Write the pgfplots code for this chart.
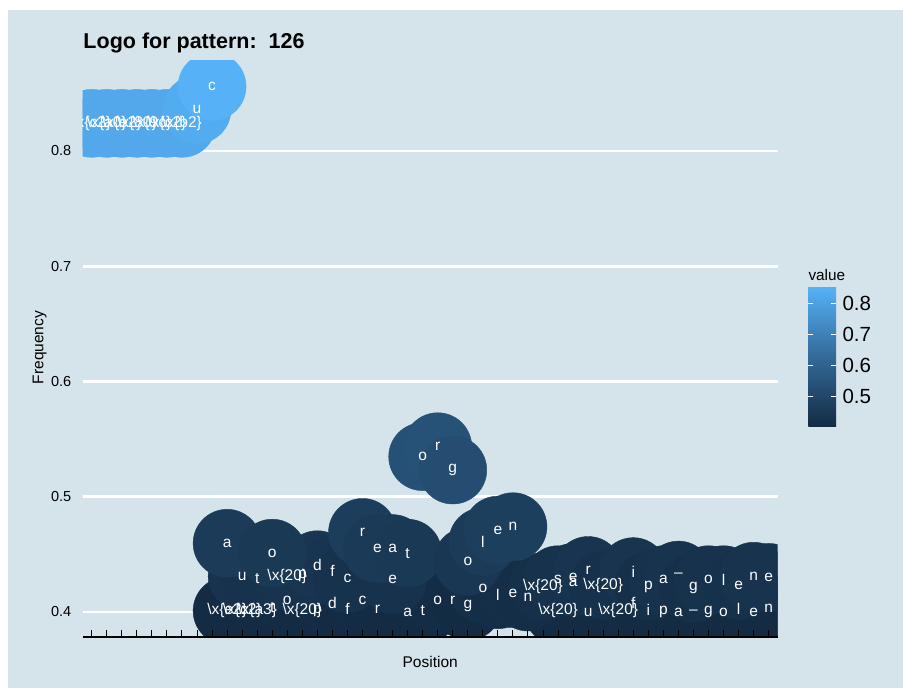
\documentclass[border=0pt]{standalone}
\usepackage{fontspec}
\setmainfont{Liberation Sans}
\usepackage{pgfplots}
\pgfplotsset{compat=1.18}
\definecolor{econbg}{HTML}{D5E4EB}
\protected\def\bsx#1{\textbackslash x\{#1\}}
\pgfplotsset{colormap={gg}{rgb255=(19,43,67) rgb255=(51,106,152) rgb255=(86,177,247)}}
\begin{document}
\begin{tikzpicture}[x=1bp,y=1bp]
\useasboundingbox (0,0) rectangle (903,688);
\fill[white] (0,0) rectangle (903,688);
\fill[econbg] (8.3,0) rectangle (903,678);
\begin{axis}[
  at={(82.7bp,51bp)}, anchor=south west,
  scale only axis, width=695bp, height=576.8bp,
  xmin=0.4, xmax=46.6, ymin=0.3783, ymax=0.8788,
  axis line style={draw=none},
  xtick=\empty,
  ytick={0.4,0.5,0.6,0.7,0.8},
  yticklabels={0.4,0.5,0.6,0.7,0.8},
  ytick style={draw=none},
  yticklabel style={font=\fontsize{14.5bp}{17bp}\selectfont, text=black, xshift=-8bp},
  ymajorgrids, major grid style={white, line width=2.6bp},
  clip marker paths=true,
  colormap name=gg,
  point meta min=0.4026, point meta max=0.852,
  colorbar,
  colorbar/width=27.7bp,
  colorbar style={
    at={(parent axis.south east)}, anchor=south west,
    xshift=22.1bp, yshift=210bp,
    scale only axis, width=27.7bp, height=140bp,
    axis line style={draw=none},
    ytick={0.5,0.6,0.7,0.8},
    yticklabels={0.5,0.6,0.7,0.8},
    tick pos=both, yticklabel pos=right,
    tick align=inside, major tick length=5bp,
    ytick style={white, line width=0.9bp},
    yticklabel style={font=\fontsize{20.5bp}{24bp}\selectfont, text=black, xshift=3bp},
  },
]
% circles
\addplot[scatter, only marks, mark=*, mark size=34bp, point meta=y,
  scatter/use mapped color={draw=mapped color, fill=mapped color}] coordinates {
 (10,0.401) (11,0.401) (12,0.401) (13,0.404) (14,0.410) (15,0.401) (16,0.401)
 (17,0.4075) (18,0.403) (19,0.410) (20,0.402) (22,0.400) (23,0.401) (24,0.410)
 (25,0.410) (26,0.405) (32,0.401) (34,0.400) (36,0.401) (37,0.408) (38,0.402)
 (39,0.400) (40,0.400) (41,0.400) (42,0.400) (43,0.400) (44,0.403) (45,0.400) (46,0.403)
 (11,0.431) (12,0.429) (14,0.431) (15,0.431) (16,0.441) (17,0.436) (18,0.429)
 (21,0.428) (27,0.4205) (28,0.415) (29,0.416) (30,0.413) (31,0.422) (32,0.428)
 (33,0.430) (33,0.426) (34,0.436) (35,0.423) (37,0.435) (38,0.422) (39,0.428)
 (40,0.432) (41,0.4205) (42,0.428) (43,0.428) (44,0.423) (45,0.431) (46,0.430)
 (10,0.4596) (13,0.451) (19,0.469) (20,0.455) (21,0.455) (22,0.451)
 (23,0.5348) (24,0.5434) (25,0.5232) (26,0.444) (27,0.461) (28,0.471) (29,0.474)
 (1,0.824) (2,0.824) (3,0.824) (4,0.824) (5,0.824) (6,0.824) (7,0.824)
 (8,0.836) (9,0.856)
};
% letters
\addplot[only marks, mark=*, mark size=0.01pt, mark options={draw=none, fill=none},
  point meta=explicit symbolic,
  nodes near coords={\pgfplotspointmeta},
  every node near coord/.append style={anchor=center, inner sep=0pt, text=white,
    font=\fontsize{15.5bp}{18bp}\selectfont}] coordinates {
 (10,0.401) [\bsx{e2}] (11,0.401) [\bsx{c2}] (12,0.401) [\bsx{a3}] (13,0.404) [t]
 (14,0.410) [o] (15,0.401) [\bsx{20}] (16,0.401) [p]
 (17,0.4075) [d] (18,0.403) [f] (19,0.410) [c] (20,0.402) [r] (22,0.400) [a] (23,0.401) [t] (24,0.410) [o]
 (25,0.410) [r] (26,0.405) [g] (32,0.401) [\bsx{20}] (34,0.400) [u] (36,0.401) [\bsx{20}] (37,0.408) [f] (38,0.402) [i]
 (39,0.400) [p] (40,0.400) [a] (41,0.400) [–] (42,0.400) [g] (43,0.400) [o] (44,0.403) [l] (45,0.400) [e] (46,0.403) [n]
 (11,0.431) [u] (12,0.429) [t] (14,0.431) [\bsx{20}] (15,0.431) [p] (16,0.441) [d] (17,0.436) [f] (18,0.429) [c]
 (21,0.428) [e] (27,0.4205) [o] (28,0.415) [l] (29,0.416) [e] (30,0.413) [n] (31,0.422) [\bsx{20}] (32,0.428) [s]
 (33,0.430) [e] (33,0.426) [a] (34,0.436) [r] (35,0.423) [\bsx{20}] (37,0.435) [i] (38,0.422) [p] (39,0.428) [a]
 (40,0.432) [–] (41,0.4205) [g] (42,0.428) [o] (43,0.428) [l] (44,0.423) [e] (45,0.431) [n] (46,0.430) [e]
 (10,0.4596) [a] (13,0.451) [o] (19,0.469) [r] (20,0.455) [e] (21,0.455) [a] (22,0.451) [t]
 (23,0.5348) [o] (24,0.5434) [r] (25,0.5232) [g] (26,0.444) [o] (27,0.461) [l] (28,0.471) [e] (29,0.474) [n]
 (1,0.824) [\bsx{c2}] (2,0.824) [\bsx{a0}] (3,0.824) [\bsx{e2}] (4,0.824) [\bsx{80}] (5,0.824) [\bsx{9c}]
 (6,0.824) [\bsx{c2}] (7,0.824) [\bsx{b2}] (8,0.836) [u] (9,0.856) [c]
};
\end{axis}
% overlay axis with bottom line and inward ticks
\begin{axis}[
  at={(82.7bp,51bp)}, anchor=south west,
  scale only axis, width=695bp, height=576.8bp,
  xmin=0.4, xmax=46.6, ymin=0.3783, ymax=0.8788,
  axis x line*=bottom, axis y line=none,
  ytick=\empty,
  xtick={1,...,46}, xticklabels={},
  tick align=inside, major tick length=7.3bp,
  xtick style={black, line width=1bp},
  x axis line style={black, line width=1.3bp},
]
\end{axis}
\node[anchor=base west, inner sep=0pt, font=\bfseries\fontsize{21.5bp}{25bp}\selectfont] at (83.3,639.7) {Logo for pattern:\ \ 126};
\node[rotate=90, anchor=base, inner sep=0pt, font=\fontsize{15.5bp}{18bp}\selectfont] at (43.3,340.5) {Frequency};
\node[anchor=base, inner sep=0pt, font=\fontsize{15.5bp}{18bp}\selectfont] at (430.2,20.7) {Position};
\node[anchor=base west, inner sep=0pt, font=\fontsize{15.3bp}{18bp}\selectfont] at (808.3,407.3) {value};
\end{tikzpicture}
\end{document}
